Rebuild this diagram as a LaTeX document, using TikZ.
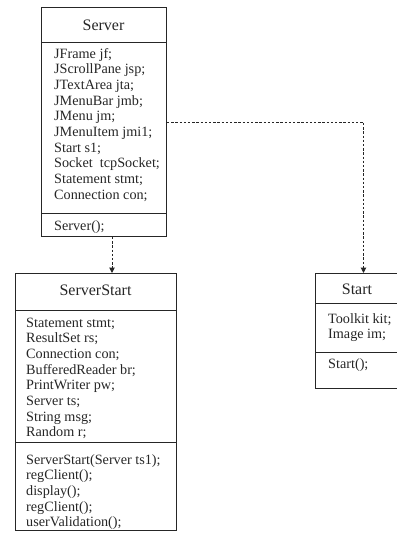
\documentclass[tikz,border=0pt]{standalone}
\usepackage{fontspec}
\setmainfont{Liberation Serif}
\usetikzlibrary{arrows.meta}
\definecolor{ink}{gray}{0.15}
\tikzset{
  classbox/.style={draw=ink, line width=1pt, rectangle, inner sep=0pt, anchor=north west},
  sep/.style={draw=ink, line width=1pt},
  title/.style={anchor=base, inner sep=0pt, text=ink, font=\fontsize{16}{18}\selectfont},
  member/.style={anchor=base west, inner sep=0pt, text=ink, font=\fontsize{14.2}{15.7}\selectfont},
  dep/.style={draw=ink, line width=1pt, dash pattern=on 2.4pt off 1.8pt,
    -{Triangle[width=5.5pt,length=5.5pt]}}
}
\begin{document}
\begin{tikzpicture}[x=1pt,y=-1pt]
\useasboundingbox (0,0) rectangle (397,542);

% class Server
\node[classbox, minimum width=125pt, minimum height=229pt] (server) at (41,7) {};
\draw[sep] (41,42) -- (166,42);
\draw[sep] (41,213) -- (166,213);
\node[title] (server-name) at (103.5,30) {Server};
\foreach \t [count=\i] in {JFrame jf;, JScrollPane jsp;, JTextArea jta;, JMenuBar jmb;,
  JMenu jm;, JMenuItem jmi1;, Start s1;, Socket\ \ tcpSocket;, Statement stmt;, Connection con;}
  \node[member] (server-a\i) at (54,{58+15.7*(\i-1)}) {\t};
\node[member] (server-m1) at (54,230) {Server();};

% class ServerStart
\node[classbox, minimum width=161pt, minimum height=257pt] (serverstart) at (15,273) {};
\draw[sep] (15,310) -- (176,310);
\draw[sep] (15,442) -- (176,442);
\node[title] (serverstart-name) at (95.5,295) {ServerStart};
\foreach \t [count=\i] in {Statement stmt;, ResultSet rs;, Connection con;, BufferedReader br;,
  PrintWriter pw;, Server ts;, String msg;, Random r;}
  \node[member] (serverstart-a\i) at (26,{327+15.7*(\i-1)}) {\t};
\foreach \t [count=\i] in {ServerStart(Server ts1);, regClient();, display();, regClient();, userValidation();}
  \node[member] (serverstart-m\i) at (26,{464+15.7*(\i-1)}) {\t};

% class Start
\node[classbox, minimum width=84pt, minimum height=115pt] (start) at (315,273) {};
\draw[sep] (315,303) -- (399,303);
\draw[sep] (315,352) -- (399,352);
\node[title] (start-name) at (357,294) {Start};
\node[member] (start-a1) at (328,323) {Toolkit kit;};
\node[member] (start-a2) at (328,338) {Image im;};
\node[member] (start-m1) at (328,368) {Start();};

% dependencies
\draw[dep] ([xshift=8pt]server.south) -- ([xshift=8pt]server.south |- serverstart.north);
\draw[dep] (server.east) -| ([xshift=6pt]start.north);
\end{tikzpicture}
\end{document}
